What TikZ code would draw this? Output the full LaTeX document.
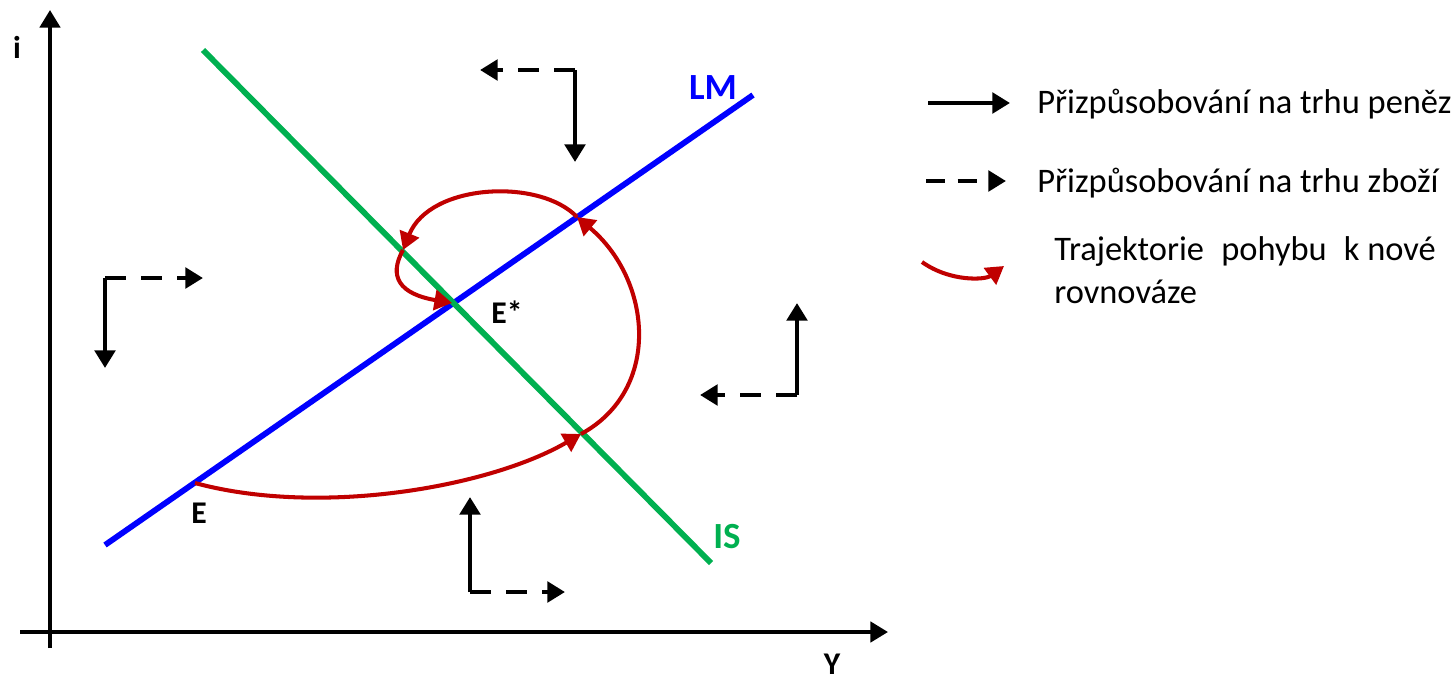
\documentclass[tikz,border=0pt]{standalone}
\usepackage{fontspec}
\setmainfont{Carlito}
\usetikzlibrary{arrows.meta}

\definecolor{lmblue}{RGB}{0,0,255}
\definecolor{isgreen}{RGB}{0,176,80}
\definecolor{pathred}{RGB}{192,0,0}

\tikzset{
  head/.style={-{Triangle[length=10pt,width=11.5pt]}},
  axis/.style={line width=2.2pt, head},
  money/.style={line width=2.5pt, head},
  goods/.style={money, dash pattern=on 12pt off 8.5pt},
  curve/.style={line width=3.3pt},
  traj/.style={pathred, line width=2.3pt, head},
  lbl/.style={inner sep=0pt, font=\fontsize{18}{20}\selectfont\bfseries},
  legtxt/.style={inner sep=0pt, anchor=west, font=\fontsize{19.6}{22}\selectfont}
}

\begin{document}
\begin{tikzpicture}[x=0.02cm, y=-0.02cm]
  \useasboundingbox (0,0) rectangle (1456,680);

  % axes
  \coordinate (xs) at (20,632);  \coordinate (xe) at (888,632);
  \coordinate (ys) at (50,648);  \coordinate (ye) at (50,10);
  \draw[axis] (xs) -- (xe);
  \draw[axis] (ys) -- (ye);
  \node[lbl] (ilabel) at (17,47) {i};
  \node[lbl] (ylabel) at (832,664) {Y};

  % LM and IS curves
  \coordinate (lm1) at (105,545); \coordinate (lm2) at (753,95);
  \coordinate (is1) at (203,50);  \coordinate (is2) at (711,563);
  \draw[curve, lmblue] (lm1) -- (lm2);
  \draw[curve, isgreen] (is1) -- (is2);
  \node[lbl, lmblue, font=\fontsize{21}{24}\selectfont\bfseries] (lmlabel) at (713,88) {LM};
  \node[lbl, isgreen, font=\fontsize{21}{24}\selectfont\bfseries] (islabel) at (727,537) {IS};

  % equilibria
  \coordinate (E) at (195,483);
  \coordinate (Estar) at (452,303);
  \node[lbl] (elabel) at (199,513) {E};
  \node[lbl] (estarlabel) at (507,312) {E*};

  % trajectory to the new equilibrium
  \coordinate (tA) at (581,434);
  \coordinate (tB) at (577,217);
  \coordinate (tC) at (403,250);
  \draw[traj] (E) .. controls (320,517) and (490,487) .. (tA);
  \draw[traj] (tA) .. controls (662,390) and (652,280) .. (tB);
  \draw[traj] (tB) .. controls (540,178) and (430,183) .. (tC);
  \draw[traj] (tC) .. controls (388,277) and (400,294) .. (Estar);

  % adjustment arrows
  \coordinate (c1) at (575,70);  \coordinate (c1g) at (480,70);  \coordinate (c1m) at (575,162);
  \coordinate (c2) at (105,278); \coordinate (c2g) at (203,278); \coordinate (c2m) at (105,368);
  \coordinate (c3) at (797,395); \coordinate (c3g) at (700,395); \coordinate (c3m) at (797,303);
  \coordinate (c4) at (470,592); \coordinate (c4g) at (565,592); \coordinate (c4m) at (470,497);
  \foreach \c in {c1,c2,c3,c4} {
    \draw[goods] (\c) -- (\c g);
    \draw[money] (\c) -- (\c m);
  }

  % legend
  \coordinate (l1a) at (928,103); \coordinate (l1b) at (1010,103);
  \coordinate (l2a) at (926,181); \coordinate (l2b) at (1006,181);
  \coordinate (l3a) at (922,262); \coordinate (l3b) at (1004,266);
  \draw[money] (l1a) -- (l1b);
  \draw[goods, dash pattern=on 11pt off 7pt] (l2a) -- (l2b);
  \draw[traj] (l3a) .. controls (950,282) and (985,280) .. (l3b);
  \node[legtxt] (leg1) at (1037,104) {Přizpůsobování na trhu peněz};
  \node[legtxt] (leg2) at (1037,183) {Přizpůsobování na trhu zboží};
  \node[legtxt] (leg3) at (1054,251) {Trajektorie\hspace{0.5em}pohybu\hspace{0.5em}k nové};
  \node[legtxt] (leg4) at (1054,292) {rovnováze};
\end{tikzpicture}
\end{document}
